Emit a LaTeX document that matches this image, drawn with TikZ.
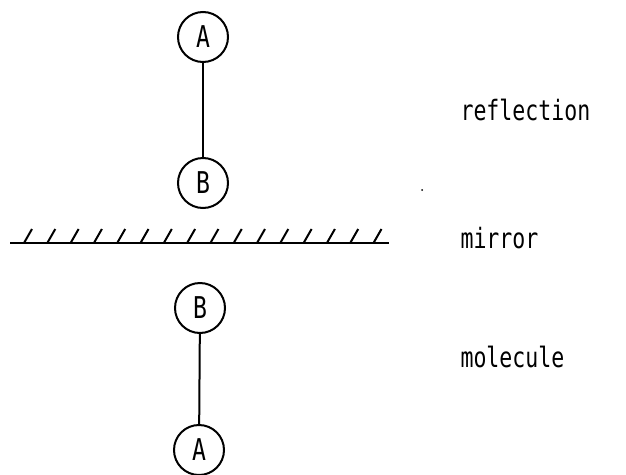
\documentclass[tikz,border=0pt]{standalone}
\usepackage{fontspec}
\newfontfamily\tw[FakeStretch=0.77]{DejaVu Sans Mono}
\begin{document}
\begin{tikzpicture}[x=1pt,y=-1pt,
  atom/.style={circle,draw,line width=2pt,minimum size=50pt,inner sep=0pt,font=\tw\fontsize{30}{30}\selectfont},
  bond/.style={line width=2pt},
  lab/.style={anchor=west,font=\tw\fontsize{28}{28}\selectfont}]
\useasboundingbox (0,0) rectangle (626,474);
\node[atom] (A1) at (203,37) {A};
\node[atom] (B1) at (203,183) {B};
\node[atom] (B2) at (200,308) {B};
\node[atom] (A2) at (199,450) {A};
\draw[bond] (A1) -- (B1);
\draw[bond] (B2) -- (A2);
\coordinate (m1) at (10,243);
\coordinate (m2) at (389,243);
\draw[line width=2pt] (m1) -- (m2);
\foreach \i in {0,...,15}{
  \draw[line width=2pt] ({28+23.3*\i-4},243) -- ({28+23.3*\i+4},229);
}
\node[lab] (r) at (457,110) {reflection};
\node[lab] (m) at (457,238) {mirror};
\node[lab] (mo) at (457,357) {molecule};
\fill (422,190) circle (1pt);
\end{tikzpicture}
\end{document}
